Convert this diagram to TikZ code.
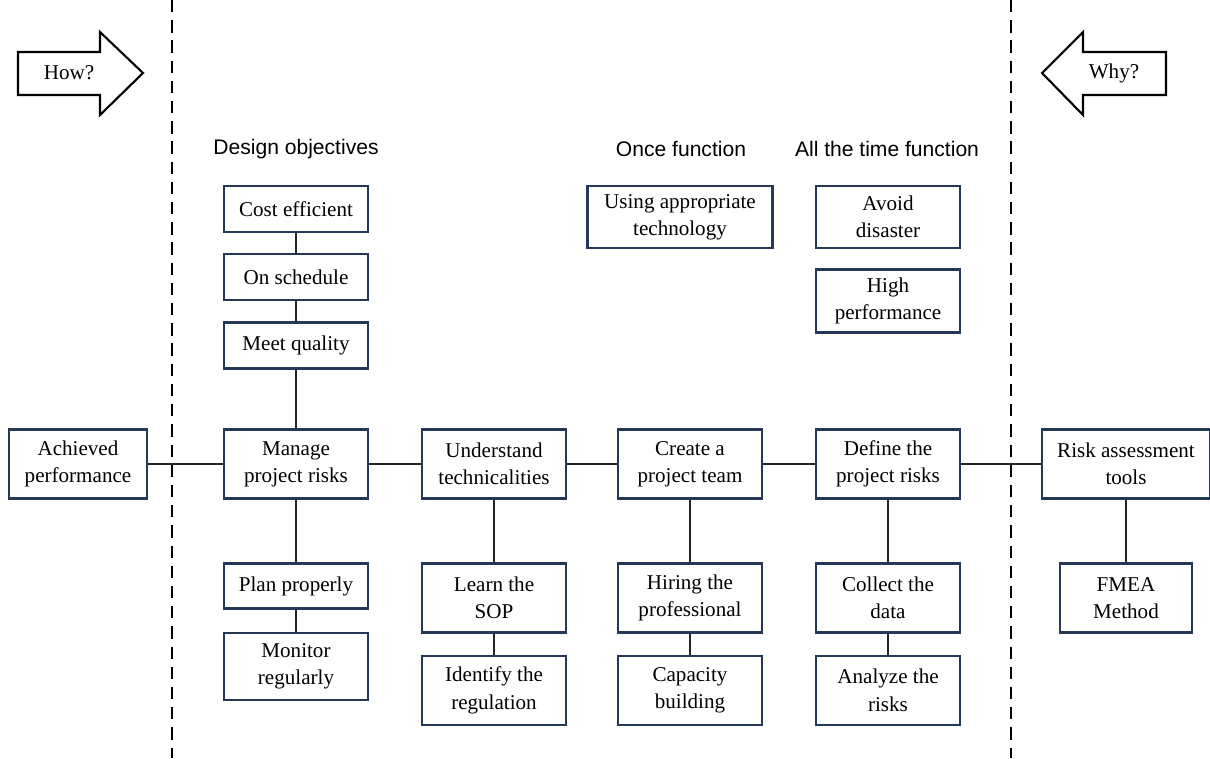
\documentclass[tikz,border=0pt]{standalone}
\usepackage{fontspec}
\setmainfont{Liberation Serif}
\setsansfont{Liberation Sans}
\usepackage{tikz}
\usetikzlibrary{positioning}
\definecolor{kastenblau}{RGB}{38,56,88}
\tikzset{kasten/.style={rectangle,draw=kastenblau,line width=1.3pt,align=center,
		minimum width=2.88cm, minimum height=1.38cm, inner sep=1pt,
		font=\fontsize{12}{15.5}\selectfont},
	flach/.style={minimum height=0.92cm},
	titel/.style={font=\sffamily\fontsize{12}{14}\selectfont},
	linie/.style={draw=black!85,line width=0.9pt},
	trenner/.style={line width=1.2pt, dash pattern=on 7pt off 4.5pt},
	pfeil/.style={draw,line width=1.2pt,line join=miter} }
\begin{document}
\begin{tikzpicture}[x=0.02cm, y=-0.02cm]
  \useasboundingbox (0,0) rectangle (1210,758);

  % dashed borders
  \draw[trenner] (172,0) -- (172,758);
  \draw[trenner] (1011,0) -- (1011,758);

  % how / why arrows
  \draw[pfeil] (18,52) -- (100,52) -- (100,32) -- (143,73) -- (100,115) -- (100,95) -- (18,95) -- cycle;
  \node (how) at (69,73) [font=\fontsize{12}{14}\selectfont] {How?};
  \draw[pfeil] (1042,73) -- (1083,32) -- (1083,52) -- (1166,52) -- (1166,95) -- (1083,95) -- (1083,115) -- cycle;
  \node (why) at (1114,73) [font=\fontsize{12}{14}\selectfont] {Why?};

  % main row
  \node (ach) at (78,464) [kasten, minimum width=2.76cm] {Achieved\\performance};
  \node (mgr) at (296,464) [kasten] {Manage\\project risks};
  \node (und) at (494,464) [kasten] {Understand\\technicalities};
  \node (team) at (690,464) [kasten] {Create a\\project team};
  \node (def) at (888,464) [kasten] {Define the\\project risks};
  \node (tools) at (1126,464) [kasten, minimum width=3.36cm] {Risk assessment\\tools};

  % design objectives
  \node (dobj) at (296,149) [titel] {Design objectives};
  \node (cost) at (296,209) [kasten, flach] {Cost efficient};
  \node (sched) [kasten, flach, below=0.4cm of cost] {On schedule};
  \node (qual) [kasten, flach, below=0.4cm of sched] {Meet quality};

  % functions
  \node (once) at (681,149) [titel] {Once function};
  \node (tech) at (680,217) [kasten, minimum width=3.7cm, minimum height=1.24cm] {Using appropriate\\technology};
  \node (allt) at (887,149) [titel] {All the time function};
  \node (avoid) at (888,217) [kasten, minimum height=1.24cm] {Avoid\\disaster};
  \node (high) at (888,301) [kasten, minimum height=1.26cm] {High\\performance};

  % lower boxes
  \node (plan) at (296,586) [kasten, minimum height=0.9cm] {Plan properly};
  \node (mon) [kasten, minimum height=1.34cm, below=0.44cm of plan] {Monitor\\regularly};
  \node (sop) at (494,598) [kasten] {Learn the\\SOP};
  \node (reg) [kasten, below=0.42cm of sop] {Identify the\\regulation};
  \node (hire) at (690,598) [kasten] {Hiring the\\professional};
  \node (cap) [kasten, below=0.42cm of hire] {Capacity\\building};
  \node (coll) at (888,598) [kasten] {Collect the\\data};
  \node (ana) [kasten, below=0.42cm of coll] {Analyze the\\risks};
  \node (fmea) at (1126,598) [kasten, minimum width=2.64cm] {FMEA\\Method};

  % connectors
  \draw[linie] (ach) -- (mgr) -- (und) -- (team) -- (def) -- (tools);
  \draw[linie] (cost) -- (sched) -- (qual) -- (mgr) -- (plan) -- (mon);
  \draw[linie] (und) -- (sop) -- (reg);
  \draw[linie] (team) -- (hire) -- (cap);
  \draw[linie] (def) -- (coll) -- (ana);
  \draw[linie] (tools) -- (fmea);
\end{tikzpicture}
\end{document}
